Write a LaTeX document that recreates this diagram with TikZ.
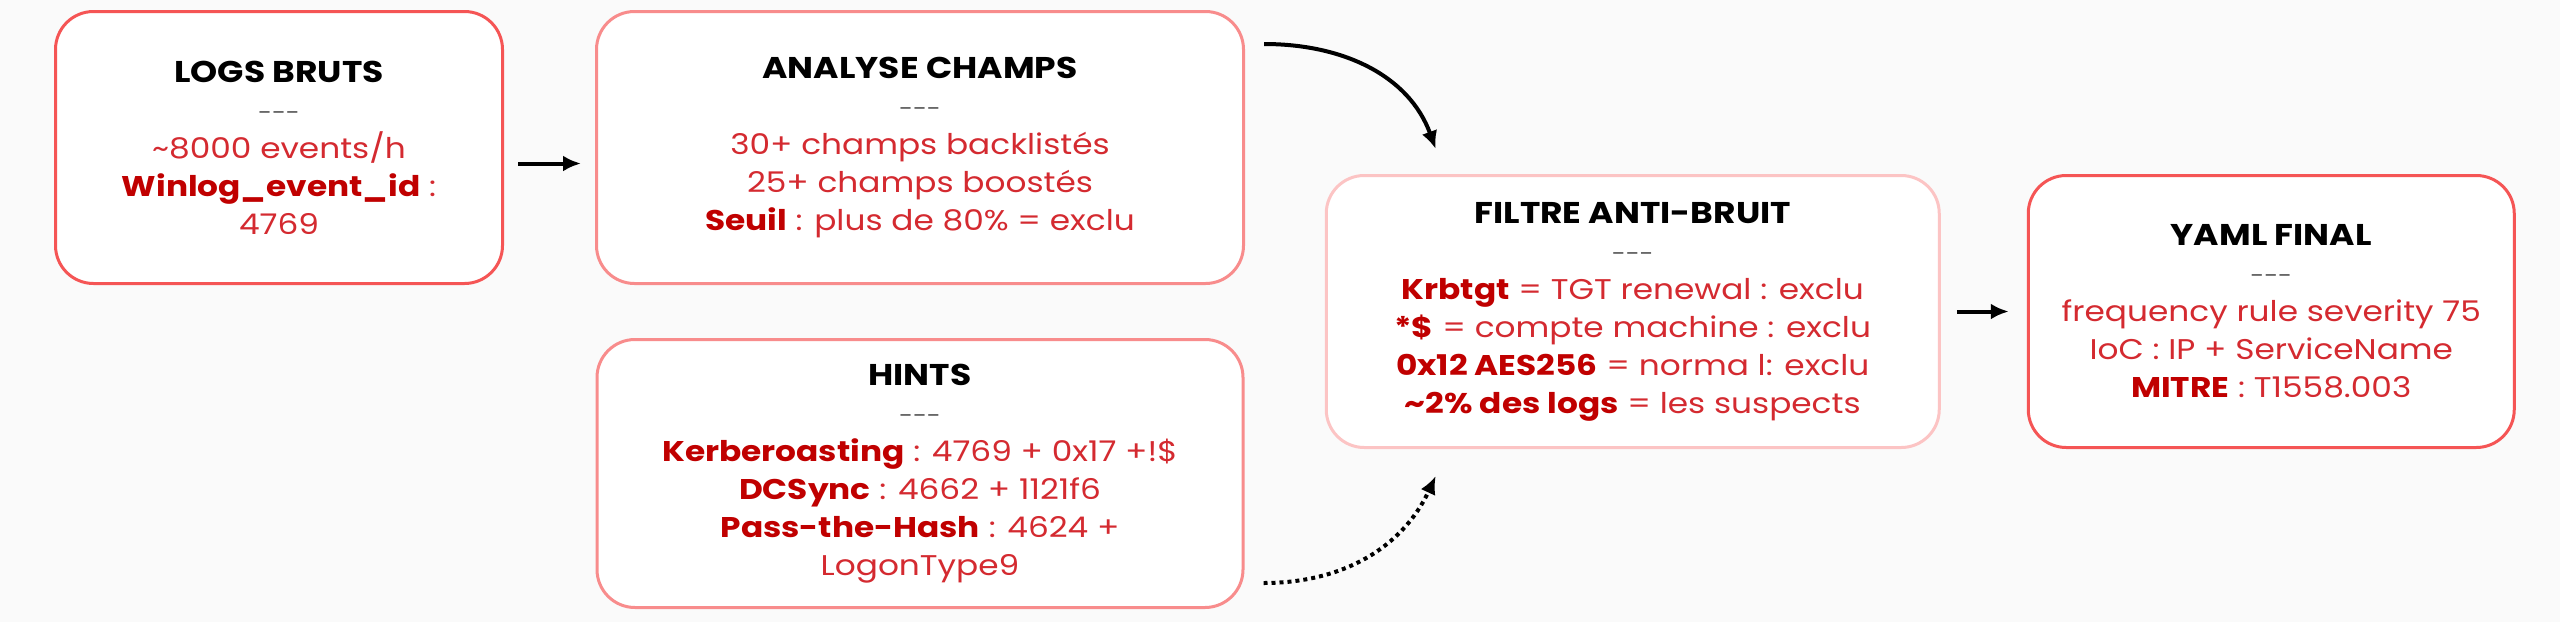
\documentclass[tikz,border=0pt]{standalone}
\usepackage{fontspec}
\setmainfont{Poppins}[FakeStretch=1.15]
\usepackage{tikz}
\usetikzlibrary{positioning, arrows.meta, calc}

\definecolor{bggray}{RGB}{250,250,250}
\definecolor{edgestrong}{RGB}{245,85,85}
\definecolor{edgesoft}{RGB}{248,140,140}
\definecolor{edgepale}{RGB}{252,196,196}
\definecolor{txtred}{RGB}{212,42,48}
\definecolor{keyred}{RGB}{192,0,0}
\definecolor{sepgray}{RGB}{90,90,90}

\newcommand{\hd}[1]{{\fontsize{30}{38}\selectfont\bfseries\color{black}#1}}
\newcommand{\sepline}{{\fontsize{22}{38}\selectfont\color{sepgray}-\kern0pt-\kern0pt-}}
\newcommand{\kw}[1]{{\bfseries\color{keyred}#1}}

\tikzset{
  stage/.style={draw, line width=3pt, rounded corners=38pt, fill=white, align=center,
    text=txtred, font=\fontsize{28.5}{38}\selectfont, inner sep=0pt, minimum height=272pt},
  flow/.style={-{Latex[length=18pt,width=16pt]}, line width=4pt},
  hintflow/.style={flow, dash pattern=on 4pt off 4pt},
}

\begin{document}
\begin{tikzpicture}
        \useasboundingbox[fill=bggray] (0,0) rectangle (2560pt,-622pt);
        \node[stage, draw=edgestrong, minimum width=447pt, anchor=north west] (logs) at (54pt,-10pt)
          {\hd{LOGS BRUTS}\\ \sepline\\ \textasciitilde8000 events/h\\ \kw{Winlog\_event\_id} :\\ 4769};
        \node[stage, draw=edgesoft, minimum width=647pt, right=91pt of logs] (analyse)
          {\hd{ANALYSE CHAMPS}\\ \sepline\\ 30+ champs backlistés\\ 25+ champs boostés\\ \kw{Seuil} : plus de 80\% = exclu};
        \node[stage, draw=edgesoft, minimum width=646pt, minimum height=268pt, below=53pt of analyse] (hints)
          {\hd{HINTS}\\ \sepline\\ \kw{Kerberoasting} : 4769 + 0x17 +!\$\\ \kw{DCSync} : 4662 + 1121f6\\ \kw{Pass-the-Hash} : 4624 +\\ LogonType9};
        \coordinate (gap) at ($(analyse.south east)!0.5!(hints.north east)$);
        \node[stage, draw=edgepale, minimum width=613pt, right=80pt of gap] (filtre)
          {\hd{FILTRE ANTI-BRUIT}\\ \sepline\\ \kw{Krbtgt} = TGT renewal : exclu\\ \kw{*\$} = compte machine : exclu\\ \kw{0x12 AES256} = norma l: exclu\\ \kw{\textasciitilde2\% des logs} = les suspects};
        \node[stage, draw=edgestrong, minimum width=486pt, right=86pt of filtre] (yaml)
          {\hd{YAML FINAL}\\ \sepline\\ frequency rule severity 75\\ IoC : IP + ServiceName\\ \kw{MITRE} : T1558.003};
        % pipeline
        \draw[flow] ([xshift=14pt,yshift=-16pt]logs.east) -- ([xshift=-14pt,yshift=-16pt]analyse.west);
        \draw[flow] ([xshift=19pt,yshift=-34pt]analyse.north east) to[out=0, in=110] ([xshift=111pt,yshift=25pt]filtre.north west);
        \draw[hintflow] ([xshift=19pt,yshift=26pt]hints.south east) to[out=0, in=-115] ([xshift=111pt,yshift=-27pt]filtre.south west);
        \draw[flow] ([xshift=16pt]filtre.east) -- ([xshift=-18pt]yaml.west);
    \end{tikzpicture}
\end{document}
